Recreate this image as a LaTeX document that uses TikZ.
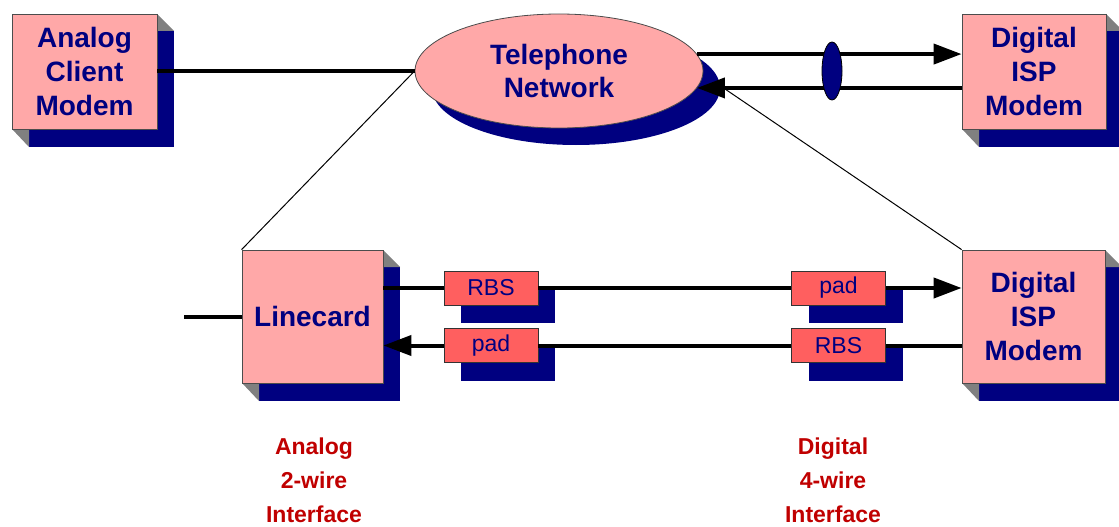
\documentclass[tikz,border=0pt]{standalone}
\usepackage{fontspec}
\setmainfont{Liberation Sans}
\usetikzlibrary{shapes.geometric,arrows.meta,calc}
\definecolor{boxpink}{HTML}{FFA8A8}
\definecolor{navy}{HTML}{000080}
\definecolor{bevel}{HTML}{808080}
\definecolor{smallred}{HTML}{FF5F5F}
\definecolor{labelred}{HTML}{C00000}
\tikzset{
  bigbox/.style={draw=black!70, line width=0.8pt, fill=boxpink, inner sep=0pt, align=center,
    text=navy, font=\fontsize{28}{34}\selectfont\bfseries},
  smallbox/.style={draw=black!80, line width=0.8pt, fill=smallred, inner sep=0pt,
    minimum width=94pt, minimum height=34pt, text=navy, font=\fontsize{23}{27}\selectfont},
  shade3d/.style={fill=navy, draw=none},
  bevelface/.style={fill=bevel, draw=none},
  thickline/.style={line width=4pt},
  thinline/.style={line width=1pt},
  arr/.style={-{Triangle[length=28pt,width=20pt]}},
  lbl/.style={align=center, text=labelred, font=\fontsize{23}{34}\selectfont\bfseries}
}
% shadow box: x1 y1 x2 y2
\newcommand\myShadowBox[4]{%
  \fill[navy] (#1+17,#2+17) rectangle (#3+17,#4+18);
  \fill[bevel] (#3,#2) -- (#3+17,#2+17) -- (#3,#2+17) -- cycle;
  \fill[bevel] (#1,#4) -- (#1+17,#4+18) -- (#1+17,#4) -- cycle;
}
\begin{document}
\begin{tikzpicture}[x=1pt,y=-1pt]
\useasboundingbox (0,0) rectangle (1119,527);

% shadows
\myShadowBox{12}{14}{157}{129}
\myShadowBox{962}{14}{1106}{129}
\myShadowBox{242}{250}{383}{383}
\myShadowBox{962}{250}{1105}{383}
\fill[navy] (576,88) ellipse [x radius=144, y radius=57];
\foreach \cx/\cy in {491/288, 491/345.5, 838.5/288, 838.5/345.5}{
  \fill[navy] (\cx-47+17,\cy-17+18) rectangle (\cx+47+17,\cy+17+18);
}

% main nodes
\node[bigbox, minimum width=145pt, minimum height=115pt] (acm) at (84.5,71.5) {Analog\\Client\\Modem};
\node[bigbox, minimum width=144pt, minimum height=115pt] (isp1) at (1034,71.5) {Digital\\ISP\\Modem};
\node[bigbox, minimum width=141pt, minimum height=133pt] (lc) at (312.5,316.5) {Linecard};
\node[bigbox, minimum width=143pt, minimum height=133pt] (isp2) at (1033.5,316.5) {Digital\\ISP\\Modem};
\node[bigbox, ellipse, minimum width=288pt, minimum height=114pt, font=\fontsize{28}{33}\selectfont\bfseries] (tn) at (559,71) {Telephone\\Network};

% top connectors
\draw[thickline] (acm.east |- tn.west) -- (tn.west);
\draw[thickline, arr] (tn.7) -- (tn.7 -| isp1.west);
\draw[thickline, arr] (tn.-7 -| isp1.west) -- (tn.-7);
\node[ellipse, draw=black, line width=0.8pt, fill=navy, minimum width=20pt, minimum height=58pt, inner sep=0pt] (bundle) at (832,71) {};

% thin zoom lines
\coordinate (tnr) at (725,89);
\coordinate (lcin) at (184,317);
\draw[thinline] (tn.west) -- (lc.north west);
\draw[thinline] (tnr) -- (isp2.north west);

% small boxes
\node[smallbox] (rbsA) at (491,288) {RBS};
\node[smallbox] (padA) at (491,345.5) {pad};
\node[smallbox] (padB) at (838.5,288) {pad};
\node[smallbox] (rbsB) at (838.5,345.5) {RBS};

% bottom connectors
\draw[thickline] (lcin) -- (lcin -| lc.west);
\draw[thickline] (rbsA.west -| lc.east) -- (rbsA.west);
\draw[thickline] (rbsA.east) -- (padB.west);
\draw[thickline, arr] (padB.east) -- (padB.east -| isp2.west);
\draw[thickline] (rbsB.east -| isp2.west) -- (rbsB.east);
\draw[thickline] (rbsB.west) -- (padA.east);
\draw[thickline, arr] (padA.west) -- (padA.west -| lc.east);

% labels
\node[lbl] (lblA) at (314,480) {Analog\\2-wire\\Interface};
\node[lbl] (lblD) at (833,480) {Digital\\4-wire\\Interface};
\end{tikzpicture}
\end{document}
